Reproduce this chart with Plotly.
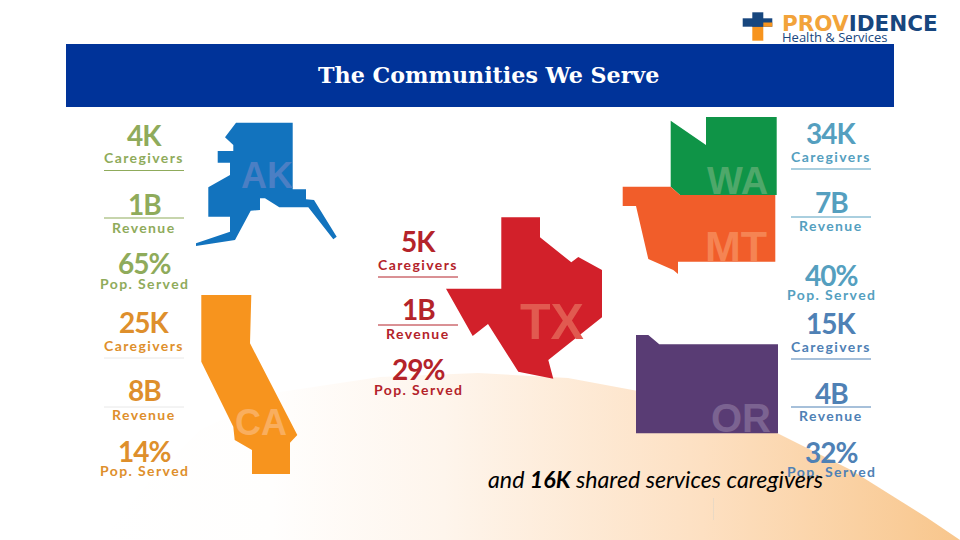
import plotly.graph_objects as go

title = "The Communities We Serve"
footer = "<i>and <b>16K</b> shared services caregivers</i>"

# stat blocks, one list per state
ak_stats = ["4K", "1B", "65%"]
ca_stats = ["25K", "8B", "14%"]
tx_stats = ["5K", "1B", "29%"]
wa_stats = ["34K", "7B", "40%"]
or_stats = ["15K", "4B", "32%"]
stat_names = ["Caregivers", "Revenue", "Pop. Served"]

# state outlines in page pixels
ak_x = [236, 292.7, 292.7, 306, 306, 314, 336.7, 333.3, 308.3, 279.3, 265, 260, 260, 250.7, 235, 196, 196, 230, 230, 208.3, 208.3, 230, 230, 217.7, 217.7, 233.3, 233.3, 225]
ak_y = [122.7, 122.7, 189.3, 189.3, 199.3, 200, 236.7, 239.3, 207.3, 207.3, 198.3, 198.3, 210, 210.7, 240, 246, 243.3, 231.7, 216.7, 216.7, 187.3, 175, 162.7, 162.7, 151, 151, 145, 137.3]
ca_x = [201.3, 251.3, 250, 297.3, 290, 290, 252, 252, 234.7, 233.3, 201.3]
ca_y = [295, 295, 343.3, 435, 442.7, 474, 474, 450, 440, 426.7, 361.7]
tx_x = [501.3, 540, 540, 571.3, 578.3, 602, 602, 548.3, 553.3, 518.3, 488, 472.7, 446, 501.3]
tx_y = [217.3, 217.3, 237.3, 262.3, 257, 270, 317.3, 360, 378.7, 371.7, 324, 336, 288.7, 288.7]
wa_x = [670.7, 706, 706, 776.7, 776.7, 680, 670.7]
wa_y = [120.7, 145, 117, 117, 195, 195, 186.7]
mt_x = [622.7, 670.7, 680, 775.3, 775.3, 678, 678, 673.3, 648.3, 636, 622.7]
mt_y = [186.7, 186.7, 195, 195, 261.7, 261.7, 274, 270, 259, 206, 206]
or_x = [636, 648.3, 659.3, 778, 778, 636]
or_y = [335, 335, 344.3, 344.3, 433.3, 433.3]

# hill behind the lower half
hill_x = [100, 150, 200, 280, 380, 478, 568, 638, 777, 851, 926, 960, 960]
hill_y = [540, 480, 430, 392, 377, 373, 378, 391, 433, 470, 517, 540, 540]

fig = go.Figure()


def add_poly(xs, ys, color):
    fig.add_trace(go.Scatter(x=xs, y=ys, mode="lines", fill="toself", fillcolor=color,
                             line=dict(width=0), hoverinfo="skip", showlegend=False))


def add_text(x, y, text, size, color, family="Lato", bold=False, xanchor="center"):
    fig.add_annotation(x=x, y=y, text=text, showarrow=False, xanchor=xanchor, yanchor="middle",
                       font=dict(family=family, size=size, color=color, weight=700 if bold else 400))


def add_rule(x0, x1, y, color):
    fig.add_shape(type="line", x0=x0, x1=x1, y0=y, y1=y, line=dict(color=color, width=1))


def add_block(cx, values, value_y, name_y, rule_y, color, rule_color):
    for v, vy, n, ny in zip(values, value_y, stat_names, name_y):
        add_text(cx, vy, f'<span style="letter-spacing:-1px">{v}</span>', 28, color, bold=True)
        add_text(cx, ny, f'<span style="letter-spacing:1.4px">{n}</span>', 14, color, bold=True)
    for ry in rule_y:
        add_rule(cx - 40, cx + 40, ry, rule_color)


# background hill
fig.add_trace(go.Scatter(x=hill_x, y=hill_y, mode="lines", fill="toself", line=dict(width=0),
                         fillgradient=dict(type="horizontal",
                                           colorscale=[[0, "#ffffff"], [0.2, "#fffefd"], [0.4, "#fef5ec"], [0.7, "#fde0c2"], [1, "#f8c68c"]]),
                         hoverinfo="skip", showlegend=False))
fig.add_shape(type="line", x0=713.5, x1=713.5, y0=498, y1=520, line=dict(color="#ead9c4", width=1))

# banner
fig.add_shape(type="rect", x0=66, x1=894, y0=44, y1=107, fillcolor="#003399", line=dict(width=0))
add_text(488.5, 75, title, 22.2, "#ffffff", family="DejaVu Serif", bold=True)

# logo
fig.add_shape(type="rect", x0=752.3, x1=763.3, y0=22, y1=40.7, fillcolor="#f7941e", line=dict(width=0))
fig.add_shape(type="rect", x0=742.7, x1=772.3, y0=18.3, y1=26.7, fillcolor="#17467e", line=dict(width=0))
fig.add_shape(type="rect", x0=752.3, x1=763.3, y0=12.3, y1=26.7, fillcolor="#17467e", line=dict(width=0))
fig.add_shape(type="rect", x0=763.3, x1=772.3, y0=22.5, y1=26.7, fillcolor="#f7941e", line=dict(width=0))
add_text(780, 23, '<span style="color:#f2a33a">PROV</span>IDENCE', 21.5, "#17467e", family="DejaVu Sans", bold=True, xanchor="left")
add_text(780, 37, "Health &amp; Services", 13, "#17467e", family="Open Sans", xanchor="left")

# states
add_poly(ak_x, ak_y, "#1273be")
add_poly(ca_x, ca_y, "#f7941e")
add_poly(tx_x, tx_y, "#d2202a")
add_poly(wa_x, wa_y, "#0f9447")
add_poly(mt_x, mt_y, "#f15d2a")
add_poly(or_x, or_y, "#593c74")

add_text(267, 175, "AK", 36, "#4b7fc4", family="Liberation Sans", bold=True)
add_text(261, 422, "CA", 36, "#f9ae5e", family="Liberation Sans", bold=True)
add_text(552, 322, "TX", 50, "#e15a50", family="Liberation Sans", bold=True)
add_text(737, 181, "WA", 38, "#4ea86a", family="Liberation Sans", bold=True)
add_text(736, 246, "MT", 43, "#f58453", family="Liberation Sans", bold=True)
add_text(741, 418, "OR", 40, "#7b6391", family="Liberation Sans", bold=True)

# stat text
add_block(144, ak_stats, [135, 204, 263], [157, 227, 283], [170.5, 218], "#8fab5b", "#8fab5b")
add_block(144, ca_stats, [322, 390, 451], [345, 414, 470], [358, 407], "#de8f2c", "#e8e8e8")
add_block(418, tx_stats, [241, 309, 369], [264, 333, 389], [277, 325], "#b4232a", "#b4232a")
add_block(831, wa_stats, [133, 202, 275], [156, 225, 294], [169, 217], "#559fbf", "#559fbf")
add_block(831, or_stats, [323, 393, 452], [346, 415, 471], [359, 407], "#4f81b5", "#4f81b5")

add_text(655.5, 479, footer, 23.2, "#000000")

fig.update_xaxes(range=[0, 960], visible=False, fixedrange=True)
fig.update_yaxes(range=[540, 0], visible=False, fixedrange=True)
fig.update_layout(width=960, height=540, margin=dict(l=0, r=0, t=0, b=0),
                  paper_bgcolor="#ffffff", plot_bgcolor="#ffffff")
fig.write_html("out.html", post_script="document.body.style.margin='0';", config=dict(displayModeBar=False))
